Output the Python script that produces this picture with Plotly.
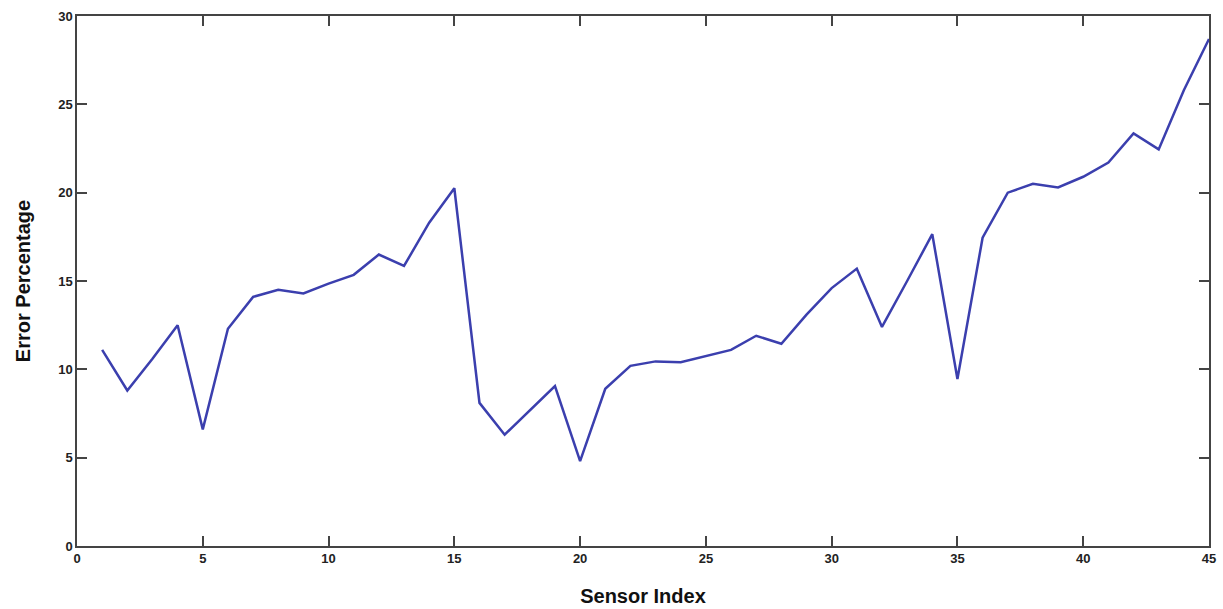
import plotly.graph_objects as go

sensor_index = list(range(1, 46))
error_pct = [11.1, 8.8, 10.6, 12.5, 6.6, 12.3, 14.1, 14.5, 14.3, 14.85,
             15.35, 16.5, 15.85, 18.3, 20.25, 8.1, 6.3, 7.7, 9.05, 4.8,
             8.9, 10.2, 10.45, 10.4, 10.75, 11.1, 11.9, 11.45, 13.1, 14.6,
             15.7, 12.4, 15.0, 17.65, 9.45, 17.45, 20.0, 20.5, 20.3, 20.9,
             21.7, 23.35, 22.45, 25.8, 28.7]

x_ticks = [0, 5, 10, 15, 20, 25, 30, 35, 40, 45]
y_ticks = [0, 5, 10, 15, 20, 25, 30]

font_family = "Liberation Sans, Arial, sans-serif"

fig = go.Figure()
fig.add_trace(go.Scatter(x=sensor_index, y=error_pct, mode="lines",
                         line=dict(color="#3b3fae", width=2.5),
                         showlegend=False))

axis_common = dict(showline=True, linecolor="#444444", linewidth=1.5,
                   mirror="ticks", ticks="inside", ticklen=10, tickwidth=1.5,
                   tickcolor="#444444", showgrid=False, zeroline=False,
                   automargin=False,
                   tickfont=dict(family=font_family, size=13, color="#222222", weight="bold"))

fig.update_layout(
    width=1223, height=609,
    margin=dict(l=77, r=14, t=16, b=63),
    paper_bgcolor="white", plot_bgcolor="white",
    xaxis=dict(range=[0, 45], tickvals=x_ticks,
               title=dict(text="Sensor Index", standoff=24,
                          font=dict(family=font_family, size=20, color="#111111", weight="bold")),
               **axis_common),
    yaxis=dict(range=[0, 30], tickvals=y_ticks,
               title=dict(text="Error Percentage", standoff=22,
                          font=dict(family=font_family, size=20, color="#111111", weight="bold")),
               **axis_common),
)

fig.write_html("out.html")
